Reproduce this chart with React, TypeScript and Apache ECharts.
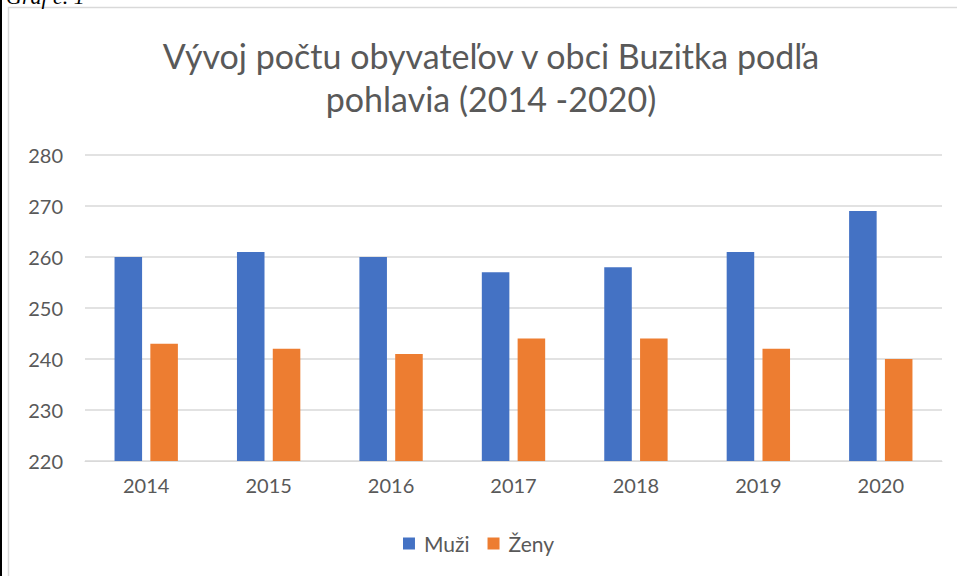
import React, { useEffect, useRef } from "react";
import * as echarts from "echarts";

const categories = ["2014", "2015", "2016", "2017", "2018", "2019", "2020"];
const muzi = [260, 261, 260, 257, 258, 261, 269];
const zeny = [243, 242, 241, 244, 244, 242, 240];
const yTicks = { min: 220, max: 280, interval: 10 };

const FONT = "Lato, 'Open Sans', sans-serif";
const GREY = "#595959";

export default function App() {
  const ref = useRef<HTMLDivElement>(null);
  useEffect(() => {
    if (!ref.current) return;
    const chart = echarts.init(ref.current, undefined, { renderer: "svg" });
    chart.setOption({
      animation: false,
      backgroundColor: "#ffffff",
      title: {
        text: "Vývoj počtu obyvateľov v obci Buzitka podľa\npohlavia (2014 -2020)",
        left: 486,
        top: 29,
        textAlign: "center",
        textStyle: {
          fontFamily: FONT,
          fontSize: 34,
          fontWeight: "normal",
          color: GREY,
          lineHeight: 43,
        },
      },
      graphic: [
        {
          type: "rect",
          shape: { x: 0, y: 0, width: 2, height: 576 },
          style: { fill: "#000000" },
          silent: true,
        },
        {
          type: "rect",
          shape: { x: 8.5, y: 7.5, width: 960, height: 600 },
          style: { fill: "none", stroke: "#d9d9d9", lineWidth: 1.5 },
          silent: true,
        },
        {
          type: "text",
          x: 6,
          y: -15,
          style: {
            text: "Graf č. 1",
            font: "italic 22px 'Liberation Serif', serif",
            fill: "#000000",
          },
          silent: true,
        },
      ],
      legend: {
        data: ["Muži", "Ženy"],
        bottom: 17,
        left: "center",
        itemWidth: 12,
        itemHeight: 12,
        itemGap: 18,
        icon: "rect",
        textStyle: {
          fontFamily: FONT,
          fontSize: 21,
          color: GREY,
          padding: [0, 0, 0, 4],
        },
      },
      grid: { left: 85, right: 15, top: 155, bottom: 115 },
      xAxis: {
        type: "category",
        data: categories,
        axisLine: { lineStyle: { color: "#d9d9d9", width: 1 } },
        axisTick: { show: false },
        axisLabel: { fontFamily: FONT, fontSize: 20, color: GREY, margin: 14 },
      },
      yAxis: {
        type: "value",
        min: yTicks.min,
        max: yTicks.max,
        interval: yTicks.interval,
        axisLine: { show: false },
        axisTick: { show: false },
        axisLabel: { fontFamily: FONT, fontSize: 20, color: GREY, margin: 22 },
        splitLine: { lineStyle: { color: "#d9d9d9", width: 1.5 } },
      },
      series: [
        {
          name: "Muži",
          type: "bar",
          data: muzi,
          barWidth: "22.5%",
          barGap: "30%",
          itemStyle: { color: "#4472c4" },
        },
        {
          name: "Ženy",
          type: "bar",
          data: zeny,
          barWidth: "22.5%",
          itemStyle: { color: "#ed7d31" },
        },
      ],
    });
    return () => chart.dispose();
  }, []);
  return (
    <div
      ref={ref}
      style={{ position: "absolute", left: 0, top: 0, width: 957, height: 576 }}
    />
  );
}
